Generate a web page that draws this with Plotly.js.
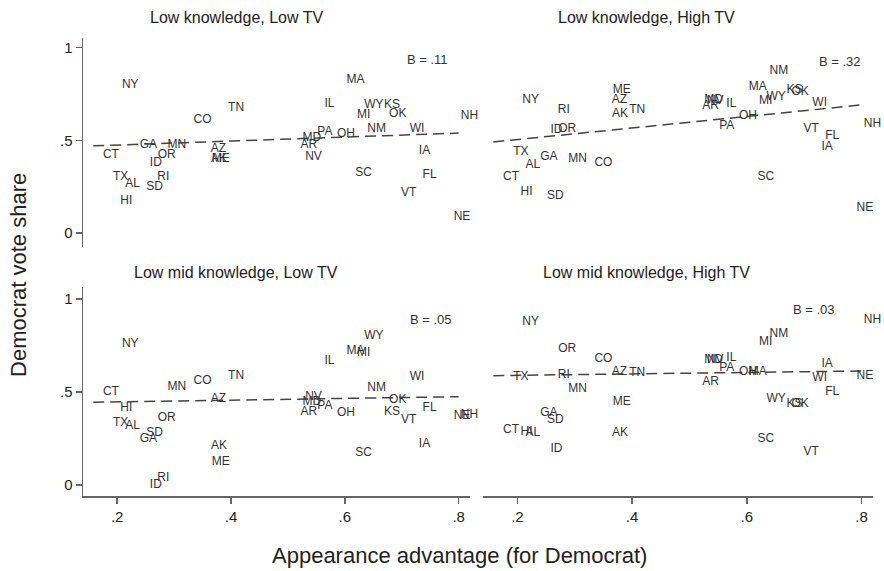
<!DOCTYPE html>
<html><head><meta charset="utf-8">
<script src="https://cdn.plot.ly/plotly-3.0.1.min.js"></script>
<style>html,body{margin:0;padding:0;background:#fff}#chart{width:884px;height:571px}</style>
</head><body><div id="chart"></div>
<script>
// 2006 governor races: label, appearance advantage (x), Democrat vote share per panel
const states = ['NY','TN','CO','GA','MN','CT','OR','ID','AZ','AK','ME','TX','AL','RI','SD','HI',
  'MA','IL','WY','KS','MI','OK','NM','WI','PA','OH','MD','AR','NV','IA','SC','FL','VT','NE','NH'];
const advantage = [0.223,0.409,0.350,0.255,0.305,0.189,0.287,0.268,0.378,0.379,0.382,0.206,0.227,0.281,0.266,0.216,
  0.619,0.573,0.651,0.683,0.633,0.693,0.656,0.727,0.565,0.602,0.542,0.537,0.545,0.740,0.633,0.749,0.712,0.806,0.819];
const shareLowKnowLowTV = [0.800,0.674,0.608,0.477,0.477,0.423,0.423,0.378,0.455,0.400,0.400,0.303,0.263,0.303,0.249,0.172,
  0.823,0.694,0.688,0.688,0.634,0.640,0.563,0.563,0.545,0.536,0.514,0.477,0.410,0.443,0.324,0.312,0.217,0.088,0.629];
const shareLowKnowHighTV = [0.719,0.665,0.378,0.410,0.401,0.303,0.559,0.554,0.715,0.643,0.769,0.437,0.369,0.665,0.200,0.222,
  0.787,0.694,0.733,0.773,0.711,0.760,0.876,0.700,0.575,0.629,0.715,0.683,0.710,0.464,0.303,0.522,0.563,0.134,0.590];
const shareLowMidKnowLowTV = [0.756,0.588,0.559,0.246,0.529,0.498,0.362,0.000,0.462,0.210,0.125,0.332,0.317,0.036,0.278,0.412,
  0.720,0.668,0.800,0.394,0.708,0.457,0.520,0.582,0.425,0.389,0.448,0.394,0.475,0.220,0.170,0.412,0.349,0.370,0.375];
const shareLowMidKnowHighTV = [0.878,0.600,0.676,0.385,0.514,0.296,0.729,0.194,0.606,0.278,0.448,0.579,0.278,0.591,0.349,0.287,
  0.609,0.681,0.461,0.435,0.771,0.435,0.812,0.574,0.627,0.609,0.672,0.552,0.672,0.650,0.246,0.502,0.179,0.588,0.887];

const panelTitles = ['Low knowledge, Low TV','Low knowledge, High TV','Low mid knowledge, Low TV','Low mid knowledge, High TV'];
const slopeLabels = ['B = .11','B = .32','B = .05','B = .03'];
const slopeLabelX = [0.746,0.763,0.752,0.717];
const slopeLabelY = [0.935,0.926,0.892,0.945];
const fitX = [0.158, 0.80];
const fitStartY = [0.470,0.491,0.445,0.588];
const fitEndY = [0.539,0.691,0.475,0.613];
const xTickVals = [0.2,0.4,0.6,0.8];
const xTickText = ['.2','.4','.6','.8'];
const yTickVals = [0,0.5,1];
const yTickText = ['0','.5','1'];

const FONT = 'Liberation Sans, Arial, sans-serif';
const panels = [shareLowKnowLowTV, shareLowKnowHighTV, shareLowMidKnowLowTV, shareLowMidKnowHighTV];
const axSuffix = ['','2','3','4'];
const traces = [];
panels.forEach((ys, i) => {
  traces.push({
    type:'scatter', mode:'lines', x: fitX, y:[fitStartY[i], fitEndY[i]],
    xaxis:'x'+axSuffix[i], yaxis:'y'+axSuffix[i],
    line:{color:'#444', width:1.5, dash:'11px,6px'}, hoverinfo:'skip', showlegend:false
  });
  traces.push({
    type:'scatter', mode:'text', x: advantage, y: ys, text: states,
    xaxis:'x'+axSuffix[i], yaxis:'y'+axSuffix[i],
    textposition:'middle center', cliponaxis:false,
    textfont:{family:FONT, size:12, color:'#333'}, hoverinfo:'skip', showlegend:false
  });
});

const lineColor = '#666';
function xAxis(domain, show, anchor){
  return {domain, anchor, range:[0.14,0.82], showgrid:false, zeroline:false, fixedrange:true,
    visible: show, showline:true, linecolor:lineColor, linewidth:1.5,
    ticks:'outside', ticklen:6, tickwidth:1.5, tickcolor:lineColor,
    tickvals:xTickVals, ticktext:xTickText, tickfont:{family:FONT, size:15, color:'#222'}};
}
function yAxis(domain, show, anchor, range){
  return {domain, anchor, range, showgrid:false, zeroline:false, fixedrange:true,
    visible: show, showline:true, linecolor:lineColor, linewidth:1.5,
    ticks:'outside', ticklen:6, tickwidth:1.5, tickcolor:lineColor,
    tickvals:yTickVals, ticktext:yTickText, tickfont:{family:FONT, size:15, color:'#222'}};
}
const xL = [0, 0.4899], xR = [0.5063, 1], yT = [0.5437, 1], yB = [0, 0.4563];
const rT = [-0.0756, 1.052], rB = [-0.059, 1.0645];

const annotations = [];
const titleX = [0.194, 0.713, 0.194, 0.713];
const titleY = [1.0437, 1.0437, 0.489, 0.489];
panelTitles.forEach((t,i)=>{
  annotations.push({text:t, xref:'paper', yref:'paper', x:titleX[i], y:titleY[i],
    xanchor:'center', yanchor:'middle', showarrow:false, font:{family:FONT, size:16, color:'#222'}});
  annotations.push({text:slopeLabels[i], xref:'x'+axSuffix[i], yref:'y'+axSuffix[i],
    x:slopeLabelX[i], y:slopeLabelY[i], xanchor:'center', yanchor:'middle', showarrow:false,
    font:{family:FONT, size:13, color:'#333'}});
});
annotations.push({text:'Democrat vote share', xref:'paper', yref:'paper', x:-0.0823, y:0.4825,
  textangle:-90, xanchor:'center', yanchor:'middle', showarrow:false, font:{family:FONT, size:22, color:'#222'}});
annotations.push({text:'Appearance advantage (for Democrat)', xref:'paper', yref:'paper', x:0.476, y:-0.129,
  xanchor:'center', yanchor:'middle', showarrow:false, font:{family:FONT, size:22, color:'#222'}});

const layout = {
  width:884, height:571, margin:{l:83, r:11, t:38, b:75},
  paper_bgcolor:'#fff', plot_bgcolor:'#fff', showlegend:false,
  xaxis: xAxis(xL, false, 'y'),
  yaxis: yAxis(yT, true, 'x', rT),
  xaxis2: xAxis(xR, false, 'y2'),
  yaxis2: yAxis(yT, false, 'x2', rT),
  xaxis3: xAxis(xL, true, 'y3'),
  yaxis3: yAxis(yB, true, 'x3', rB),
  xaxis4: xAxis(xR, true, 'y4'),
  yaxis4: yAxis(yB, false, 'x4', rB),
  annotations
};
Plotly.newPlot('chart', traces, layout, {displayModeBar:false, staticPlot:true});
</script></body></html>
